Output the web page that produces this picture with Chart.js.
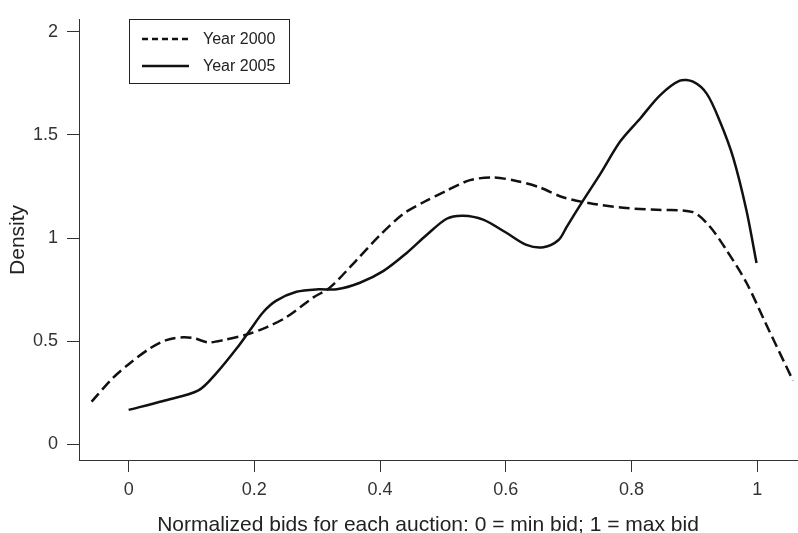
<!DOCTYPE html>
<html>
<head>
<meta charset="utf-8">
<script src="https://cdn.jsdelivr.net/npm/chart.js@4/dist/chart.umd.min.js"></script>
<style>
  html, body { margin: 0; padding: 0; background: #fff; }
</style>
</head>
<body>
<canvas id="densityChart" width="798" height="533"></canvas>
<script>
// density curves
var x2000 = [-0.059, -0.025, 0.002, 0.034, 0.060, 0.087, 0.105, 0.127, 0.151, 0.188, 0.220, 0.251, 0.294, 0.320, 0.363, 0.400, 0.437, 0.469, 0.506, 0.543, 0.580, 0.617, 0.654, 0.691, 0.734, 0.787, 0.840, 0.898, 0.925, 0.951, 0.983, 1.015, 1.057];
var y2000 = [0.208, 0.323, 0.394, 0.466, 0.506, 0.520, 0.514, 0.495, 0.506, 0.533, 0.569, 0.617, 0.713, 0.760, 0.895, 1.015, 1.118, 1.174, 1.230, 1.281, 1.294, 1.277, 1.246, 1.198, 1.169, 1.147, 1.137, 1.126, 1.055, 0.943, 0.784, 0.578, 0.310];
var x2005 = [0, 0.055, 0.111, 0.140, 0.172, 0.193, 0.214, 0.235, 0.267, 0.302, 0.331, 0.368, 0.405, 0.442, 0.474, 0.506, 0.532, 0.564, 0.601, 0.633, 0.660, 0.684, 0.697, 0.723, 0.750, 0.782, 0.814, 0.845, 0.877, 0.898, 0.920, 0.941, 0.962, 0.983, 0.999];
var y2005 = [0.168, 0.211, 0.262, 0.347, 0.466, 0.554, 0.641, 0.697, 0.740, 0.752, 0.752, 0.784, 0.840, 0.927, 1.015, 1.094, 1.109, 1.090, 1.026, 0.967, 0.956, 0.991, 1.055, 1.182, 1.309, 1.468, 1.580, 1.691, 1.763, 1.758, 1.699, 1.564, 1.389, 1.134, 0.880];

var seriesNames = ["Year 2000", "Year 2005"];
var xTicks = [0, 0.2, 0.4, 0.6, 0.8, 1];
var yTicks = [0, 0.5, 1, 1.5, 2];
var yTickLabels = ["0", "0.5", "1", "1.5", "2"];
var xTitle = 'Normalized bids for each auction: 0 = min bid; 1 = max bid';

function pairs(xs, ys) {
  return xs.map(function (x, i) { return { x: x, y: ys[i] }; });
}

var axisColor = '#333';
var fontFamily = 'Liberation Sans, Arial, sans-serif';
var tickFont = { family: fontFamily, size: 18 };
var titleFont = { family: fontFamily, size: 21, lineHeight: 0.8 };

// legend box inside the plot (top left) and the x title, set a little left of centre
var boxLegend = {
  id: 'boxLegend',
  afterDraw: function (chart) {
    var ctx = chart.ctx;
    var left = 129, top = 19, w = 160, h = 64;
    ctx.save();
    ctx.fillStyle = '#fff';
    ctx.fillRect(left, top, w, h);
    ctx.strokeStyle = '#222';
    ctx.lineWidth = 1;
    ctx.strokeRect(left + 0.5, top + 0.5, w, h);
    chart.data.datasets.forEach(function (ds, i) {
      var yy = top + 20 + i * 27;
      ctx.beginPath();
      ctx.setLineDash(i === 0 ? [6, 4] : []);
      ctx.lineWidth = 2.5;
      ctx.strokeStyle = '#111';
      ctx.moveTo(142, yy);
      ctx.lineTo(189, yy);
      ctx.stroke();
      ctx.setLineDash([]);
      ctx.fillStyle = '#222';
      ctx.font = '16px ' + fontFamily;
      ctx.textBaseline = 'middle';
      ctx.fillText(ds.label, 203, yy + 1);
    });

    ctx.fillStyle = '#222';
    ctx.font = '21px ' + fontFamily;
    ctx.textAlign = 'center';
    ctx.textBaseline = 'middle';
    ctx.fillText(xTitle, 428, 525);
    ctx.restore();
  }
};

var ctxD = document.getElementById("densityChart").getContext('2d');
var densityChart = new Chart(ctxD, {
  type: 'line',
  data: {
    datasets: [{
      label: seriesNames[0],
      data: pairs(x2000, y2000),
      borderColor: '#111',
      borderWidth: 2.5,
      borderDash: [11, 5],
      pointRadius: 0,
      tension: 0.3,
      fill: false
    }, {
      label: seriesNames[1],
      data: pairs(x2005, y2005),
      borderColor: '#111',
      borderWidth: 2.5,
      pointRadius: 0,
      tension: 0.3,
      fill: false
    }]
  },
  options: {
    responsive: false,
    animation: false,
    layout: { padding: { top: 13, right: 0, left: 0, bottom: 0 } },
    plugins: {
      legend: { display: false },
      tooltip: { enabled: false }
    },
    scales: {
      x: {
        type: 'linear',
        min: -0.079,
        max: 1.065,
        afterBuildTicks: function (axis) {
          axis.ticks = xTicks.map(function (v) { return { value: v }; });
        },
        afterFit: function (axis) { axis.height = 73; },
        ticks: {
          color: axisColor,
          font: tickFont,
          padding: 7,
          maxRotation: 0,
          callback: function (v) { return String(v); }
        },
        grid: { drawOnChartArea: false, drawTicks: true, tickLength: 12, color: axisColor },
        border: { display: true, color: axisColor, width: 1 },
        title: { display: false }
      },
      y: {
        min: -0.075,
        max: 2.058,
        afterBuildTicks: function (axis) {
          axis.ticks = yTicks.map(function (v) { return { value: v }; });
        },
        afterFit: function (axis) { axis.width = 79; },
        ticks: {
          color: axisColor,
          font: tickFont,
          padding: 9,
          callback: function (v) { return yTickLabels[yTicks.indexOf(v)]; }
        },
        grid: { drawOnChartArea: false, drawTicks: true, tickLength: 12, color: axisColor },
        border: { display: true, color: axisColor, width: 1 },
        title: {
          display: true,
          text: 'Density',
          color: '#222',
          font: titleFont,
          padding: { top: 10, bottom: 0 }
        }
      }
    }
  },
  plugins: [boxLegend]
});
</script>
</body>
</html>
